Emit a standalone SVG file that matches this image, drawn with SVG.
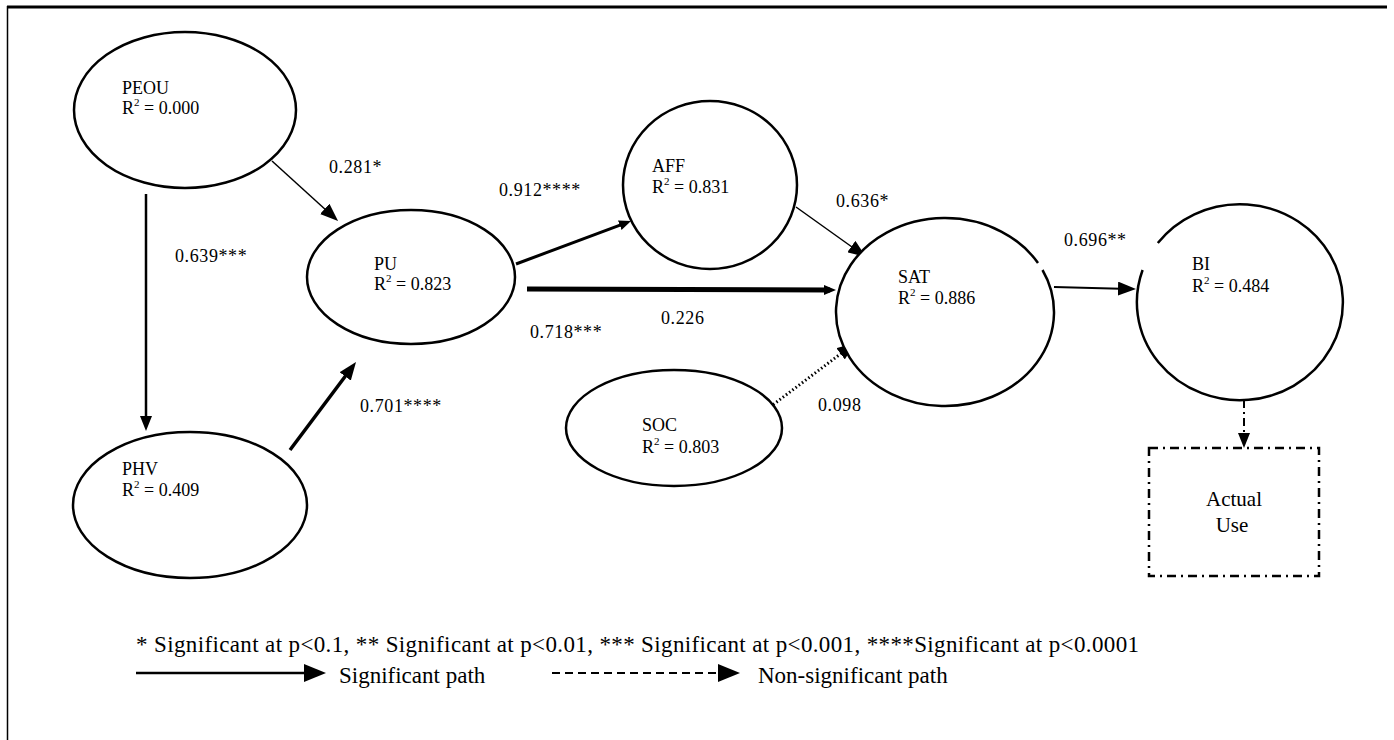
<svg xmlns="http://www.w3.org/2000/svg" width="1394" height="740" viewBox="0 0 1394 740">
<style>
.node{fill:#fff;stroke:#000;stroke-width:2.5}
.lbl{font-family:"Liberation Serif","Times New Roman",serif;font-size:18px;fill:#000}
.big{font-size:21px}
.sup{font-size:11px}
.plbl{font-family:"Liberation Serif","Times New Roman",serif;font-size:18px;fill:#000;letter-spacing:0.6px}
.leg{font-family:"Liberation Serif","Times New Roman",serif;font-size:23px;fill:#000}
.c{fill:none;stroke:#000}
</style>
<defs>
<marker id="ahL" viewBox="0 0 18 14" markerWidth="18" markerHeight="14" refX="12" refY="7" orient="auto" markerUnits="userSpaceOnUse"><path d="M0,0 L18,7 L0,14 z" fill="#000"/></marker>
<marker id="ahM" viewBox="0 0 15 12" markerWidth="15" markerHeight="12" refX="9" refY="6" orient="auto" markerUnits="userSpaceOnUse"><path d="M0,0 L15,6 L0,12 z" fill="#000"/></marker>
<marker id="ahS" viewBox="0 0 12 10" markerWidth="12" markerHeight="10" refX="6" refY="5" orient="auto" markerUnits="userSpaceOnUse"><path d="M0,0 L12,5 L0,10 z" fill="#000"/></marker>
<marker id="ahLeg" viewBox="0 0 22 18" markerWidth="22" markerHeight="18" refX="16" refY="9" orient="auto" markerUnits="userSpaceOnUse"><path d="M0,0 L22,9 L0,18 z" fill="#000"/></marker>
</defs>
<rect width="1394" height="740" fill="#fff"/>
<g id="frame">
<line x1="7" y1="7" x2="1387" y2="7" stroke="#000" stroke-width="3"/>
<line x1="7.5" y1="6" x2="7.5" y2="740" stroke="#000" stroke-width="1.5"/>
</g>
<g id="connectors">
<line class="c" x1="272" y1="161" x2="333.6" y2="217" stroke-width="1.5" marker-end="url(#ahL)"/>
<line class="c" x1="146" y1="194" x2="146" y2="425" stroke-width="2.5" marker-end="url(#ahM)"/>
<line class="c" x1="290" y1="450" x2="352.4" y2="366.8" stroke-width="3.5" marker-end="url(#ahL)"/>
<line class="c" x1="516" y1="264" x2="625.4" y2="223.1" stroke-width="3" marker-end="url(#ahS)"/>
<line class="c" x1="527" y1="289" x2="830" y2="290" stroke-width="5" marker-end="url(#ahS)"/>
<line class="c" x1="796" y1="207" x2="861.1" y2="253.5" stroke-width="1.5" marker-end="url(#ahL)"/>
<line class="c" x1="770" y1="407" x2="850.2" y2="346.6" stroke-width="3" stroke-dasharray="1.5,2.5" marker-end="url(#ahL)"/>
<line class="c" x1="1054" y1="287" x2="1130" y2="288.9" stroke-width="2" marker-end="url(#ahL)"/>
<line class="c" x1="1244" y1="400" x2="1244" y2="442" stroke-width="2" stroke-dasharray="8,4,2,4" marker-end="url(#ahM)"/>
</g>
<g id="PEOU">
<ellipse class="node" cx="185" cy="110" rx="111" ry="78"/>
<text class="lbl" x="122" y="94">PEOU</text>
<text class="lbl" x="122" y="114">R<tspan class="sup" dy="-8">2</tspan><tspan dy="8"> = 0.000</tspan></text>
</g>
<g id="PHV">
<ellipse class="node" cx="190" cy="505" rx="117" ry="73"/>
<text class="lbl" x="122" y="475">PHV</text>
<text class="lbl" x="122" y="496">R<tspan class="sup" dy="-8">2</tspan><tspan dy="8"> = 0.409</tspan></text>
</g>
<g id="PU">
<ellipse class="node" cx="411" cy="277" rx="104" ry="67"/>
<text class="lbl" x="374" y="270">PU</text>
<text class="lbl" x="374" y="290">R<tspan class="sup" dy="-8">2</tspan><tspan dy="8"> = 0.823</tspan></text>
</g>
<g id="AFF">
<ellipse class="node" cx="710" cy="185" rx="87" ry="84"/>
<text class="lbl" x="652" y="172">AFF</text>
<text class="lbl" x="652" y="193">R<tspan class="sup" dy="-8">2</tspan><tspan dy="8"> = 0.831</tspan></text>
</g>
<g id="SAT">
<path class="node" d="M1042.5,270 A109,94 0 1 1 1038,263"/>
<text class="lbl" x="898" y="283">SAT</text>
<text class="lbl" x="898" y="304">R<tspan class="sup" dy="-8">2</tspan><tspan dy="8"> = 0.886</tspan></text>
</g>
<g id="BI">
<path class="node" d="M1157.8,243 A103,98 0 1 1 1142.6,270"/>
<text class="lbl" x="1192" y="270">BI</text>
<text class="lbl" x="1192" y="292">R<tspan class="sup" dy="-8">2</tspan><tspan dy="8"> = 0.484</tspan></text>
</g>
<g id="SOC">
<ellipse class="node" cx="674" cy="428" rx="108" ry="58"/>
<text class="lbl" x="642" y="431">SOC</text>
<text class="lbl" x="642" y="453">R<tspan class="sup" dy="-8">2</tspan><tspan dy="8"> = 0.803</tspan></text>
</g>
<g id="ActualUse">
<rect x="1149" y="448" width="170" height="128" fill="#fff" stroke="#000" stroke-width="2.5" stroke-dasharray="9,5,2,5"/>
<text class="lbl big" x="1234" y="506" text-anchor="middle">Actual</text>
<text class="lbl big" x="1232" y="532" text-anchor="middle">Use</text>
</g>
<g id="path-labels">
<text class="plbl" x="329" y="173">0.281*</text>
<text class="plbl" x="175" y="262">0.639***</text>
<text class="plbl" x="360" y="412">0.701****</text>
<text class="plbl" x="499" y="196">0.912****</text>
<text class="plbl" x="661" y="324">0.226</text>
<text class="plbl" x="530" y="338">0.718***</text>
<text class="plbl" x="836" y="207">0.636*</text>
<text class="plbl" x="1064" y="246">0.696**</text>
<text class="plbl" x="818" y="411">0.098</text>
</g>
<g id="legend">
<text class="leg" x="136" y="652" textLength="1003" lengthAdjust="spacing">* Significant at p&lt;0.1, ** Significant at p&lt;0.01, *** Significant at p&lt;0.001, ****Significant at p&lt;0.0001</text>
<line class="c" x1="136" y1="673" x2="320" y2="673" stroke-width="2.5" marker-end="url(#ahLeg)"/>
<text class="leg" x="339" y="683">Significant path</text>
<line class="c" x1="552" y1="673" x2="734" y2="673" stroke-width="2" stroke-dasharray="8,5" marker-end="url(#ahLeg)"/>
<text class="leg" x="758" y="683">Non-significant path</text>
</g>
</svg>
